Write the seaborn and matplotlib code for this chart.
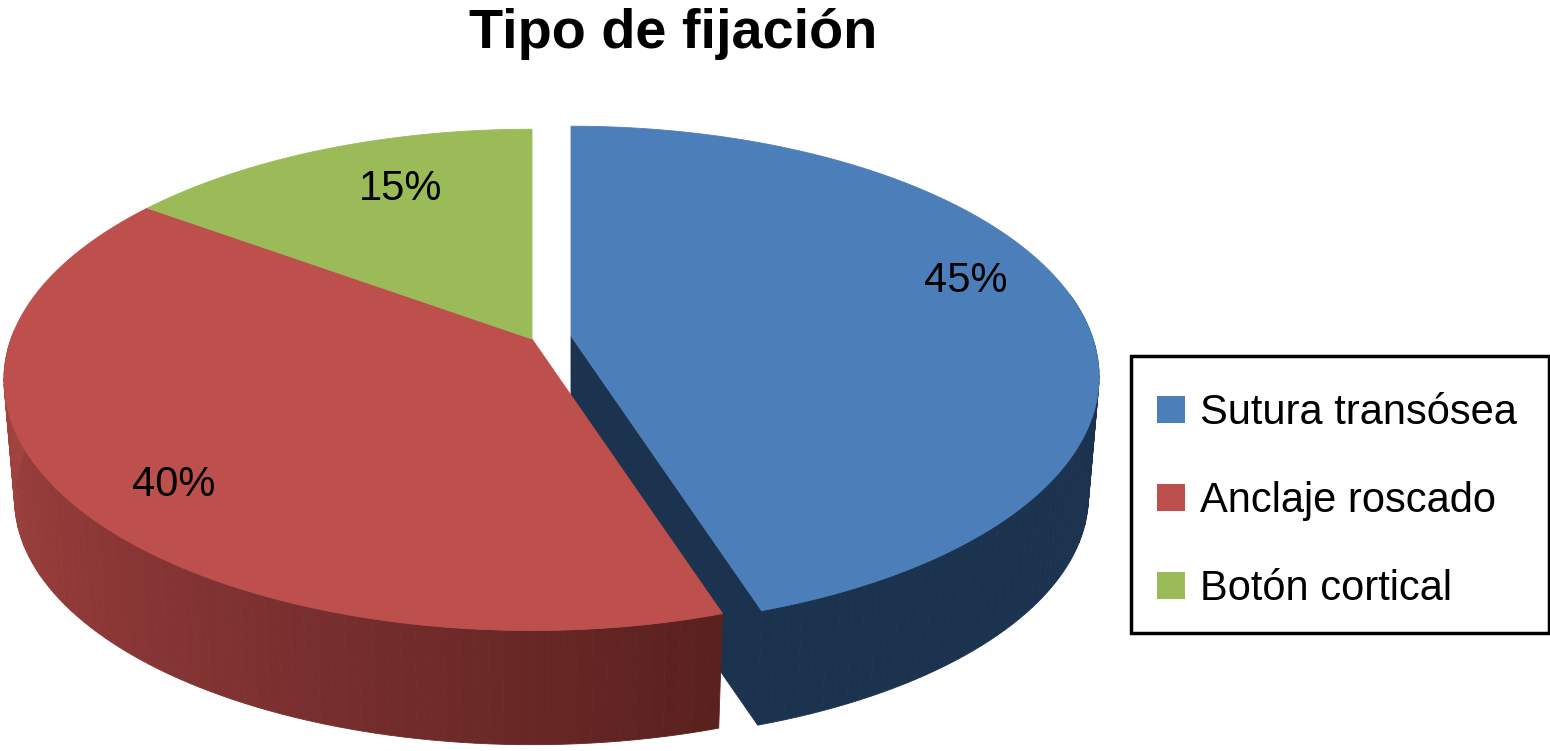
import numpy as np
import seaborn as sns
import matplotlib
matplotlib.use("Agg")
import matplotlib.pyplot as plt
from matplotlib.patches import Patch, Polygon, Rectangle

# data
categories = ["Sutura transósea", "Anclaje roscado", "Botón cortical"]
values = [45, 40, 15]
face_colors = ["#4c7fba", "#bd4f4d", "#9bbb59"]

sns.set_theme(style="white")
plt.rcParams["font.family"] = ["Liberation Sans", "DejaVu Sans"]

# perspective disc, pixel units
RX, RY, K = 521, 244, 0.163
DEPTH, SHRINK = 120, 0.98
apex_blue = (571, 336)
apex_rest = (532, 339)


def disc(angle, apex, scale=1.0, drop=0.0):
    # angle in degrees, clockwise from the back of the pie
    t = np.radians(angle)
    u, v = np.sin(t), np.cos(t)
    w = 1 + K * v
    return np.column_stack([apex[0] + scale * RX * u / w,
                            apex[1] + drop - scale * RY * v / w])


def wall(ax, start, end, apex, colors):
    # outer side of a slice, drawn in thin strips so it can shade
    edges = np.linspace(start, end, len(colors) + 1)
    for i, c in enumerate(colors):
        a = np.linspace(edges[i], edges[i + 1], 4)
        pts = np.vstack([disc(a, apex), disc(a[::-1], apex, SHRINK, DEPTH)])
        ax.add_patch(Polygon(pts, fc=c, ec=c, lw=0.6))


def top(ax, start, end, apex, color):
    a = np.linspace(start, end, 200)
    pts = np.vstack([[apex], disc(a, apex)])
    ax.add_patch(Polygon(pts, fc=color, ec=color, lw=0.6))


fig, ax = plt.subplots(figsize=(15.5, 7.51), dpi=100)
fig.subplots_adjust(0, 0, 1, 1)
ax.set_xlim(0, 1550)
ax.set_ylim(751, 0)
ax.axis("off")

ends = np.cumsum(values) * 3.6
starts = np.r_[0, ends[:-1]]

# blue slice, pulled out
navy = "#1c334f"
wall(ax, 80, ends[0], apex_blue, [navy] * 60)
corner = disc(ends[0], apex_blue)[0]
low = disc(ends[0], apex_blue, SHRINK, DEPTH)[0]
ax.add_patch(Polygon([apex_blue, corner, low, (apex_blue[0], apex_blue[1] + DEPTH)], fc=navy, ec=navy, lw=0.6))
top(ax, starts[0], ends[0], apex_blue, face_colors[0])

# red slice
shade = sns.blend_palette(["#5a211e", "#772e2e", "#903a38", "#a34542"], 80)
wall(ax, ends[0], 272, apex_rest, shade)
top(ax, starts[1], ends[1], apex_rest, face_colors[1])

# green slice
top(ax, starts[2], ends[2], apex_rest, face_colors[2])

# labels
label_xy = [(966, 281), (174, 485), (401, 189)]
for v, (x, y) in zip(values, label_xy):
    ax.text(x, y, f"{v}%", fontsize=30, color="black", ha="center", va="center")

ax.text(673, 34, "Tipo de fijación", fontsize=40.2, fontweight="bold", color="black", ha="center", va="center")

# legend box is its own rectangle so the rows can sit a bit low in it
ax.add_patch(Rectangle((1131, 356), 418, 277, fc="white", ec="black", lw=2.5))
handles = [Patch(fc=c, ec="none", label=n) for c, n in zip(face_colors, categories)]
leg = ax.legend(handles=handles, loc="lower right", bbox_to_anchor=(1547, 639.5),
                bbox_transform=ax.transData, fontsize=30, frameon=False, borderaxespad=0, borderpad=0.72,
                handlelength=0.67, handleheight=0.62, handletextpad=0.36, labelspacing=1.16, labelcolor="black")

fig.savefig("out.png", dpi=100)
